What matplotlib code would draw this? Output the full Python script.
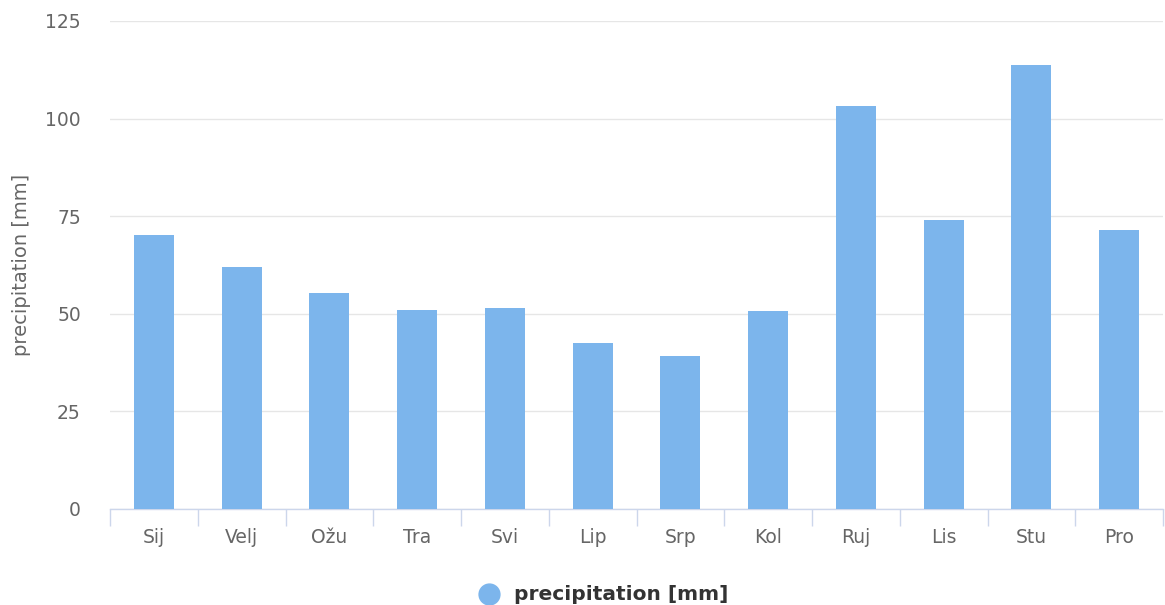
import matplotlib
matplotlib.use("Agg")
import matplotlib.pyplot as plt
from matplotlib.lines import Line2D
import numpy as np

months = ["Sij", "Velj", "Ožu", "Tra", "Svi", "Lip", "Srp", "Kol", "Ruj", "Lis", "Stu", "Pro"]
precip = [70.1, 61.9, 55.3, 50.9, 51.4, 42.5, 39.1, 50.6, 103.3, 73.9, 113.8, 71.5]
yticks = [0, 25, 50, 75, 100, 125]
series_name = "precipitation [mm]"

W, H = 1165, 605
fig = plt.figure(figsize=(W / 100, H / 100), dpi=100)
plt.rcParams['font.family'] = ['DejaVu Sans']
left, right, top, bottom = 110, 1163, 21, 509
ax = fig.add_axes([left / W, 1 - bottom / H, (right - left) / W, (bottom - top) / H])

x = np.arange(len(months))
ax.bar(x, precip, width=0.455, color="#7cb5ec", zorder=3)
ax.set_xlim(-0.5, len(months) - 0.5)
ax.set_ylim(0, 125)
ax.set_yticks(yticks)
ax.set_yticklabels([str(v) for v in yticks])
ax.yaxis.grid(True, color="#e6e6e6", linewidth=1, zorder=0)
ax.tick_params(axis='y', length=0, pad=21, labelsize=13.5, labelcolor="#666666")
for s in ["top", "right", "left"]:
    ax.spines[s].set_visible(False)
ax.spines["bottom"].set_color("#ccd6eb")
ax.spines["bottom"].set_linewidth(1)

ax.set_xticks(x)
ax.set_xticklabels(months)
ax.tick_params(axis='x', length=0, pad=14, labelsize=13.5, labelcolor="#666666")
# category boundary ticks
ax.set_xticks(np.arange(-0.5, len(months), 1), minor=True)
ax.tick_params(axis='x', which='minor', length=12, color="#ccd6eb", width=1)

ax.set_ylabel(series_name, fontsize=14, color="#666666", labelpad=10)

# legend
fig.add_artist(Line2D([489 / W], [1 - 594 / H], marker="o", markersize=15, color="#7cb5ec",
                      linestyle="none", transform=fig.transFigure))
fig.text(514 / W, 1 - 594 / H, series_name, fontsize=14.5, fontweight="bold", color="#333333",
         ha="left", va="center")

fig.savefig("out.png", dpi=100)
